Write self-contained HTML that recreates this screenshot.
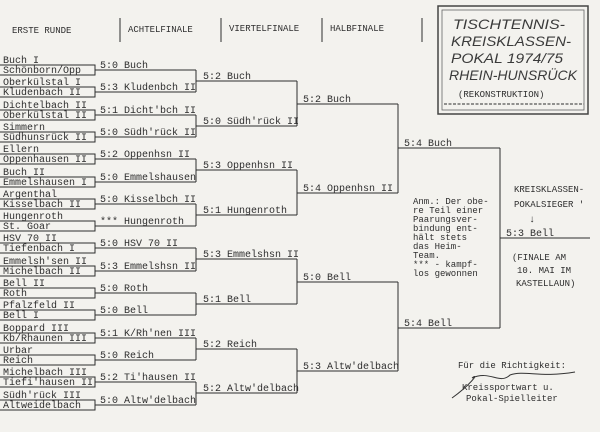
<!DOCTYPE html>
<html><head><meta charset="utf-8"><style>
html,body{margin:0;padding:0;background:#f3f2ee;}
svg{display:block}
text{font-family:"Liberation Mono",monospace;font-size:10px;fill:#2e2e2e;}
.s{font-size:9px}
.t{font-family:"Liberation Sans",sans-serif;font-style:italic;font-size:14px;fill:#3a3a3a}
line,polyline{stroke:#2e2e2e;stroke-width:1;fill:none}
</style></head><body>
<svg width="600" height="432" viewBox="0 0 600 432" xmlns="http://www.w3.org/2000/svg">
<!-- header -->
<text x="12" y="33" class="s" fill="#555">ERSTE RUNDE</text>
<line x1="120" y1="18" x2="120" y2="42"/>
<text x="128" y="32" class="s">ACHTELFINALE</text>
<line x1="221" y1="18" x2="221" y2="42"/>
<text x="229" y="31" class="s">VIERTELFINALE</text>
<line x1="322" y1="18" x2="322" y2="42"/>
<text x="330" y="31" class="s">HALBFINALE</text>
<line x1="422" y1="18" x2="422" y2="42"/>
<!-- title box -->
<rect x="438" y="6" width="150" height="108" fill="none" stroke="#444" stroke-width="1.5"/>
<rect x="442" y="10" width="142" height="100" fill="none" stroke="#666" stroke-width="0.8"/>
<text x="453" y="29" class="t" textLength="112" lengthAdjust="spacingAndGlyphs">TISCHTENNIS-</text>
<text x="451" y="46" class="t" textLength="120" lengthAdjust="spacingAndGlyphs">KREISKLASSEN-</text>
<text x="451" y="63" class="t" textLength="112" lengthAdjust="spacingAndGlyphs">POKAL  1974/75</text>
<text x="449" y="80" class="t" textLength="128" lengthAdjust="spacingAndGlyphs">RHEIN-HUNSRÜCK</text>
<text x="458" y="97" class="s">(REKONSTRUKTION)</text>
<line x1="444" y1="104" x2="584" y2="104" stroke-dasharray="3,1.5"/>

<!-- round 1 -->
<g>
<text x="3" y="63">Buch I</text><text x="3" y="73">Schönborn/Opp</text>
<polyline points="0,65 95,65 95,75 0,75"/><line x1="95" y1="70" x2="196" y2="70"/><text x="100" y="68">5:0 Buch</text>
<text x="3" y="85">Oberkülstal I</text><text x="3" y="95">Kludenbach II</text>
<polyline points="0,87 95,87 95,97 0,97"/><line x1="95" y1="92" x2="196" y2="92"/><text x="100" y="90">5:3 Kludenbch II</text>
<text x="3" y="108">Dichtelbach II</text><text x="3" y="118">Oberkülstal II</text>
<polyline points="0,110 95,110 95,120 0,120"/><line x1="95" y1="115" x2="196" y2="115"/><text x="100" y="113">5:1 Dicht'bch II</text>
<text x="3" y="130">Simmern</text><text x="3" y="140">Südhunsrück II</text>
<polyline points="0,132 95,132 95,142 0,142"/><line x1="95" y1="137" x2="196" y2="137"/><text x="100" y="135">5:0 Südh'rück II</text>
<text x="3" y="152">Ellern</text><text x="3" y="162">Oppenhausen II</text>
<polyline points="0,154 95,154 95,164 0,164"/><line x1="95" y1="159" x2="196" y2="159"/><text x="100" y="157">5:2 Oppenhsn II</text>
<text x="3" y="175">Buch II</text><text x="3" y="185">Emmelshausen I</text>
<polyline points="0,177 95,177 95,187 0,187"/><line x1="95" y1="182" x2="196" y2="182"/><text x="100" y="180">5:0 Emmelshausen</text>
<text x="3" y="197">Argenthal</text><text x="3" y="207">Kisselbach II</text>
<polyline points="0,199 95,199 95,209 0,209"/><line x1="95" y1="204" x2="196" y2="204"/><text x="100" y="202">5:0 Kisselbch II</text>
<text x="3" y="219">Hungenroth</text><text x="3" y="229">St. Goar</text>
<polyline points="0,221 95,221 95,231 0,231"/><line x1="95" y1="226" x2="196" y2="226"/><text x="100" y="224">*** Hungenroth</text>
<text x="3" y="241">HSV 70 II</text><text x="3" y="251">Tiefenbach I</text>
<polyline points="0,243 95,243 95,253 0,253"/><line x1="95" y1="248" x2="196" y2="248"/><text x="100" y="246">5:0 HSV 70 II</text>
<text x="3" y="264">Emmelsh'sen II</text><text x="3" y="274">Michelbach II</text>
<polyline points="0,266 95,266 95,276 0,276"/><line x1="95" y1="271" x2="196" y2="271"/><text x="100" y="269">5:3 Emmelshsn II</text>
<text x="3" y="286">Bell II</text><text x="3" y="296">Roth</text>
<polyline points="0,288 95,288 95,298 0,298"/><line x1="95" y1="293" x2="196" y2="293"/><text x="100" y="291">5:0 Roth</text>
<text x="3" y="308">Pfalzfeld II</text><text x="3" y="318">Bell I</text>
<polyline points="0,310 95,310 95,320 0,320"/><line x1="95" y1="315" x2="196" y2="315"/><text x="100" y="313">5:0 Bell</text>
<text x="3" y="331">Boppard III</text><text x="3" y="341">Kb/Rhaunen III</text>
<polyline points="0,333 95,333 95,343 0,343"/><line x1="95" y1="338" x2="196" y2="338"/><text x="100" y="336">5:1 K/Rh'nen III</text>
<text x="3" y="353">Urbar</text><text x="3" y="363">Reich</text>
<polyline points="0,355 95,355 95,365 0,365"/><line x1="95" y1="360" x2="196" y2="360"/><text x="100" y="358">5:0 Reich</text>
<text x="3" y="375" fill="#777">Michelbach III</text><text x="3" y="385" fill="#777">Tiefi'hausen II</text>
<polyline points="0,377 95,377 95,387 0,387" stroke="#777"/><line x1="95" y1="382" x2="196" y2="382" stroke="#777"/><text x="100" y="380" fill="#777">5:2 Ti'hausen II</text>
<text x="3" y="398" fill="#888">Südh'rück III</text><text x="3" y="408" fill="#888">Altweidelbach</text>
<polyline points="0,400 95,400 95,410 0,410" stroke="#888"/><line x1="95" y1="405" x2="196" y2="405" stroke="#888"/><text x="100" y="403" fill="#888">5:0 Altw'delbach</text>
</g>

<!-- round 2 -->
<polyline points="196,70 196,92"/><line x1="196" y1="81" x2="297" y2="81"/><text x="203" y="79">5:2 Buch</text>
<polyline points="196,115 196,137"/><line x1="196" y1="126" x2="297" y2="126"/><text x="203" y="124">5:0 Südh'rück II</text>
<polyline points="196,159 196,182"/><line x1="196" y1="170" x2="297" y2="170"/><text x="203" y="168">5:3 Oppenhsn II</text>
<polyline points="196,204 196,226"/><line x1="196" y1="215" x2="297" y2="215"/><text x="203" y="213">5:1 Hungenroth</text>
<polyline points="196,248 196,271"/><line x1="196" y1="259" x2="297" y2="259"/><text x="203" y="257">5:3 Emmelshsn II</text>
<polyline points="196,293 196,315"/><line x1="196" y1="304" x2="297" y2="304"/><text x="203" y="302">5:1 Bell</text>
<polyline points="196,338 196,360"/><line x1="196" y1="349" x2="297" y2="349"/><text x="203" y="347">5:2 Reich</text>
<polyline points="196,382 196,405" stroke="#777"/><line x1="196" y1="393" x2="297" y2="393" stroke="#777"/><text x="203" y="391" fill="#777">5:2 Altw'delbach</text>

<!-- round 3 -->
<polyline points="297,81 297,126"/><line x1="297" y1="104" x2="398" y2="104"/><text x="303" y="102">5:2 Buch</text>
<polyline points="297,170 297,215"/><line x1="297" y1="193" x2="398" y2="193"/><text x="303" y="191">5:4 Oppenhsn II</text>
<polyline points="297,259 297,304"/><line x1="297" y1="282" x2="398" y2="282"/><text x="303" y="280">5:0 Bell</text>
<polyline points="297,349 297,393"/><line x1="297" y1="371" x2="398" y2="371"/><text x="303" y="369">5:3 Altw'delbach</text>

<!-- semis -->
<polyline points="398,104 398,193"/><line x1="398" y1="148" x2="500" y2="148"/><text x="404" y="146">5:4 Buch</text>
<polyline points="398,282 398,371"/><line x1="398" y1="328" x2="500" y2="328"/><text x="404" y="326">5:4 Bell</text>

<!-- final -->
<polyline points="500,148 500,328"/><line x1="500" y1="238" x2="590" y2="238"/><text x="506" y="236">5:3 Bell</text>

<text x="514" y="192" class="s">KREISKLASSEN-</text>
<text x="514" y="207" class="s">POKALSIEGER '</text>
<text x="529" y="222" font-size="13">↓</text>
<text x="512" y="260" class="s">(FINALE AM</text>
<text x="517" y="273" class="s">10. MAI IM</text>
<text x="516" y="286" class="s">KASTELLAUN)</text>

<text x="413" y="204" class="s">Anm.: Der obe-</text>
<text x="413" y="213" class="s">re Teil einer</text>
<text x="413" y="222" class="s">Paarungsver-</text>
<text x="413" y="231" class="s">bindung ent-</text>
<text x="413" y="240" class="s">hält stets</text>
<text x="413" y="249" class="s">das Heim-</text>
<text x="413" y="258" class="s">Team.</text>
<text x="413" y="267" class="s">*** - kampf-</text>
<text x="413" y="276" class="s">los gewonnen</text>

<text x="458" y="368" class="s">Für die Richtigkeit:</text>
<text x="462" y="390" class="s">Kreissportwart u.</text>
<text x="466" y="401" class="s">Pokal-Spielleiter</text>
<path d="M452,398 C470,385 480,372 472,378 C490,370 500,385 510,375 C525,370 540,378 575,372" stroke="#333" fill="none" stroke-width="1"/>
</svg>
</body></html>
